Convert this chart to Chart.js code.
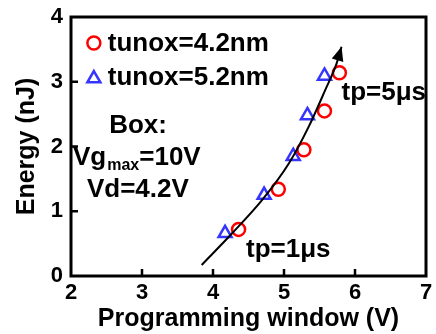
<!DOCTYPE html>
<html>
<head>
<meta charset="utf-8">
<script src="https://cdn.jsdelivr.net/npm/chart.js@4/dist/chart.umd.min.js"></script>
<style>
  html, body { margin: 0; padding: 0; background: #fff; }
  #wrap { position: relative; width: 436px; height: 334px; }
</style>
</head>
<body>
<div id="wrap"><canvas id="c"></canvas></div>
<script>
// Programming window (V) vs. energy (nJ), tp = 1..5 µs
const pwThin = [4.36, 4.92, 5.28, 5.57, 5.78];     // tunox = 4.2 nm
const energyThin = [0.72, 1.34, 1.95, 2.55, 3.14];
const pwThick = [4.17, 4.72, 5.13, 5.33, 5.57];    // tunox = 5.2 nm
const energyThick = [0.66, 1.25, 1.85, 2.48, 3.09];

// trend arrow drawn through the two series
const trendX = [3.84, 4.27, 4.69, 5.07, 5.35, 5.58, 5.74, 5.81];
const trendY = [0.17, 0.66, 1.17, 1.74, 2.31, 2.87, 3.28, 3.54];

const xTicks = [2, 3, 4, 5, 6, 7];
const yTicks = [0, 1, 2, 3, 4];

const seriesNames = ['tunox=4.2nm', 'tunox=5.2nm'];

const RED = '#ff0000';
const BLUE = '#3535ff';
const FONT = '"Liberation Sans", Arial, sans-serif';

const pts = (xs, ys) => xs.map((x, i) => ({ x, y: ys[i] }));

// text placed in data coordinates
const notes = [
  { text: 'Box:', x: 2.945, y: 2.21, align: 'center' },
  { text: 'Vd=4.2V', x: 2.224, y: 1.22, align: 'left' },
  { text: 'tp=5μs', x: 5.81, y: 2.72, align: 'left' },
  { text: 'tp=1μs', x: 4.465, y: 0.295, align: 'left' }
];

const framePlugin = {
  id: 'frame',
  afterDatasetsDraw(chart) {
    const { ctx, chartArea: a, scales: { x, y } } = chart;
    ctx.save();
    ctx.strokeStyle = '#000';
    // inward tick marks
    ctx.lineWidth = 2.5;
    ctx.beginPath();
    xTicks.slice(1, -1).forEach(v => {
      const px = x.getPixelForValue(v);
      ctx.moveTo(px, a.bottom); ctx.lineTo(px, a.bottom - 7);
    });
    yTicks.slice(1, -1).forEach(v => {
      const py = y.getPixelForValue(v);
      ctx.moveTo(a.left, py); ctx.lineTo(a.left + 7, py);
    });
    ctx.stroke();
    ctx.lineWidth = 3;
    ctx.strokeRect(a.left, a.top, a.right - a.left, a.bottom - a.top);

    // arrow head at the end of the trend line
    const n = trendX.length;
    const tx = x.getPixelForValue(trendX[n - 1]), ty = y.getPixelForValue(trendY[n - 1]);
    const bx = x.getPixelForValue(trendX[n - 2]), by = y.getPixelForValue(trendY[n - 2]);
    const ang = Math.atan2(ty - by, tx - bx);
    const L = 14, W = 6;
    ctx.fillStyle = '#000';
    ctx.beginPath();
    ctx.moveTo(tx, ty);
    ctx.lineTo(tx - L * Math.cos(ang) + W * Math.sin(ang), ty - L * Math.sin(ang) - W * Math.cos(ang));
    ctx.lineTo(tx - L * Math.cos(ang) - W * Math.sin(ang), ty - L * Math.sin(ang) + W * Math.cos(ang));
    ctx.closePath();
    ctx.fill();

    // legend
    ctx.fillStyle = '#000';
    ctx.textBaseline = 'alphabetic';
    ctx.font = 'bold 26px ' + FONT;
    const legend = [
      { name: seriesNames[0], style: 'circle', color: RED, r: 6.5, mx: 2.322, my: 3.598, ty: 3.475 },
      { name: seriesNames[1], style: 'triangle', color: BLUE, r: 7.5, mx: 2.322, my: 3.05, ty: 2.95 }
    ];
    legend.forEach(l => {
      ctx.save();
      ctx.strokeStyle = l.color;
      ctx.fillStyle = 'rgba(0,0,0,0)';
      ctx.lineWidth = 2.5;
      Chart.helpers.drawPoint(ctx, { pointStyle: l.style, radius: l.r, borderWidth: 2.5 },
        x.getPixelForValue(l.mx), y.getPixelForValue(l.my));
      ctx.restore();
      ctx.textAlign = 'left';
      ctx.fillText(l.name, x.getPixelForValue(2.518), y.getPixelForValue(l.ty));
    });

    // annotations
    notes.forEach(t => {
      ctx.textAlign = t.align;
      ctx.fillText(t.text, x.getPixelForValue(t.x), y.getPixelForValue(t.y));
    });
    // Vg with "max" subscript
    let px = x.getPixelForValue(2.028);
    const py = y.getPixelForValue(1.714);
    ctx.textAlign = 'left';
    ctx.fillText('Vg', px, py);
    px += ctx.measureText('Vg').width + 1;
    ctx.font = 'bold 16px ' + FONT;
    ctx.fillText('max', px, py + 5);
    px += ctx.measureText('max').width;
    ctx.font = 'bold 26px ' + FONT;
    ctx.fillText('=10V', px, py);
    ctx.restore();
  }
};

const tickFont = { family: FONT, size: 22, weight: 'bold', lineHeight: 1.0 };
const titleFont = { family: FONT, size: 25, weight: 'bold' };

// fixed axis box sizes keep the plot frame in place
const fixX = s => { s.height = 58; s.paddingLeft = s.paddingRight = 0; };
const fixY = s => { s.width = 59; s.paddingTop = s.paddingBottom = 0; };

new Chart(document.getElementById('c'), {
  type: 'scatter',
  data: {
    datasets: [
      {
        type: 'line',
        data: pts(trendX, trendY),
        borderColor: '#000',
        borderWidth: 2,
        pointRadius: 0,
        cubicInterpolationMode: 'monotone',
        fill: false
      },
      {
        label: seriesNames[0],
        data: pts(pwThin, energyThin),
        pointStyle: 'circle',
        pointRadius: 6.5,
        borderColor: RED,
        backgroundColor: 'rgba(0,0,0,0)',
        pointBorderWidth: 2.5
      },
      {
        label: seriesNames[1],
        data: pts(pwThick, energyThick),
        pointStyle: 'triangle',
        pointRadius: 7.5,
        borderColor: BLUE,
        backgroundColor: 'rgba(0,0,0,0)',
        pointBorderWidth: 2.5
      }
    ]
  },
  options: {
    responsive: true,
    maintainAspectRatio: false,
    animation: false,
    layout: { padding: { top: 17, right: 6, left: 12, bottom: 0 } },
    plugins: { legend: { display: false }, tooltip: { enabled: false } },
    scales: {
      x: {
        type: 'linear', min: 2, max: 7,
        afterBuildTicks: s => { s.ticks = xTicks.map(v => ({ value: v })); },
        afterFit: fixX,
        ticks: { font: tickFont, color: '#000', padding: 6 },
        grid: { drawOnChartArea: false, drawTicks: false },
        border: { display: false },
        title: { display: true, text: 'Programming window (V)', font: titleFont, color: '#000', padding: 0 }
      },
      y: {
        type: 'linear', min: 0, max: 4,
        afterBuildTicks: s => { s.ticks = yTicks.map(v => ({ value: v })); },
        afterFit: fixY,
        ticks: { font: tickFont, color: '#000', padding: 8 },
        grid: { drawOnChartArea: false, drawTicks: false },
        border: { display: false },
        title: { display: true, text: 'Energy (nJ)', font: titleFont, color: '#000', padding: { top: 0, bottom: 2 } }
      }
    }
  },
  plugins: [framePlugin]
});
</script>
</body>
</html>
